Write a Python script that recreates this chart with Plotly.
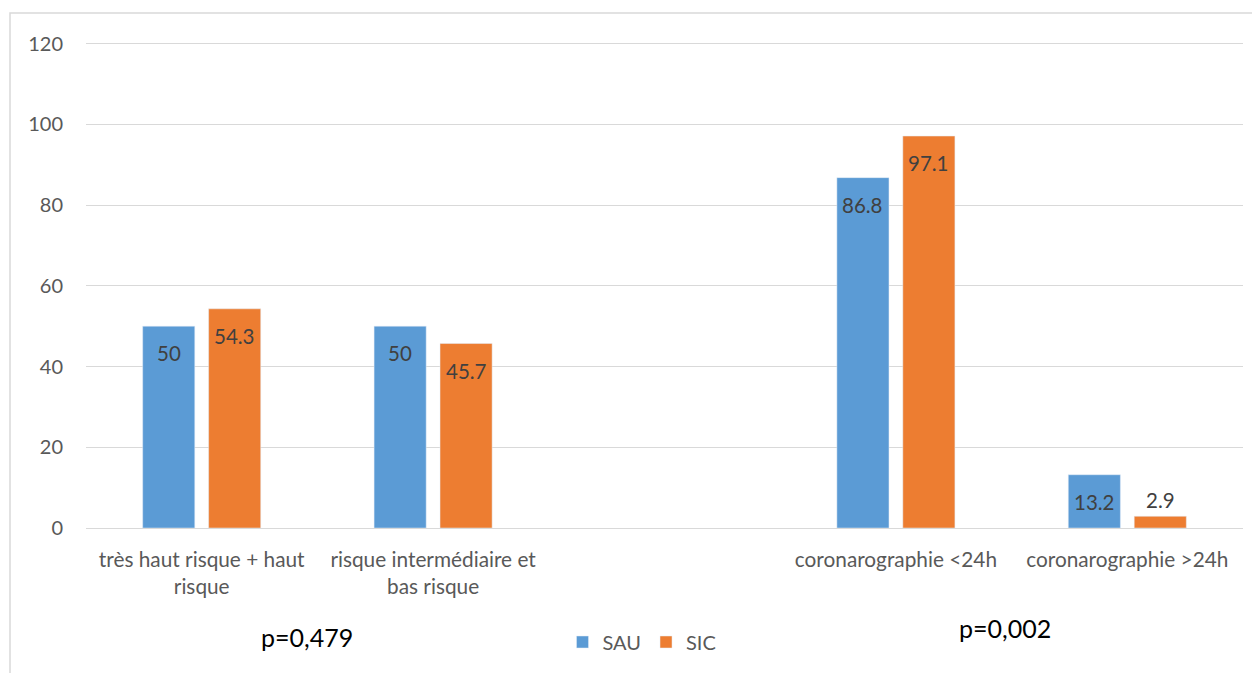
import plotly.graph_objects as go

categories = ["très haut risque + haut<br>risque", "risque intermédiaire et<br>bas risque", " ",
              "coronarographie <24h", "coronarographie >24h"]
sau = [50, 50, None, 86.8, 13.2]
sic = [54.3, 45.7, None, 97.1, 2.9]
y_ticks = [0, 20, 40, 60, 80, 100, 120]

O = 8  # browser body margin
W, H = 1260 - O, 673 - O
L, R, T, B = 86 - O, W - (1243 - O), 42 - O, H - (528 - O)
pw, ph = W - L - R, H - T - B


def px(x):
    return (x - O - L) / pw


def py(y):
    return (H - B - (y - O)) / ph


font = "Lato"
lab_color = "#404040"
fig = go.Figure()
fig.add_bar(name="SAU", x=categories, y=sau, marker_color="#5B9BD5", cliponaxis=False)
fig.add_bar(name="SIC", x=categories, y=sic, marker_color="#ED7D31", cliponaxis=False)

# data labels (inside end style)
for vals, shift in ((sau, -33), (sic, 33)):
    for c, v in zip(categories, vals):
        if v is None:
            continue
        big = v > 8
        fig.add_annotation(x=c, y=v, text=f"{v:g}", showarrow=False, xshift=shift,
                           xanchor="center", yanchor="middle", yshift=-27 if big else 16,
                           font=dict(size=20.5, color=lab_color, family=font))

fig.update_layout(
    width=W, height=H,
    margin=dict(l=L, r=R, t=T, b=B, autoexpand=False),
    paper_bgcolor="white", plot_bgcolor="white",
    barmode="group", bargap=0.43, bargroupgap=0.21,
    font=dict(family=font, color="#595959", size=20),
    legend=dict(orientation="h", x=px(642), xanchor="center", y=py(642), yanchor="middle",
                font=dict(size=20, color="#595959", family=font), itemwidth=30, traceorder="normal"),
    showlegend=True,
)
fig.update_yaxes(range=[0, 120.4], tickvals=y_ticks, showgrid=True, gridcolor="#D9D9D9", gridwidth=1.3,
                 zeroline=False, showline=False, ticks="", ticklabelstandoff=22,
                 tickfont=dict(size=20, color="#595959", family=font))
fig.update_xaxes(showgrid=False, showline=True, linecolor="#D9D9D9", linewidth=1.3, ticks="",
                 tickfont=dict(size=20.8, color="#595959", family=font), tickangle=0, ticklabelstandoff=13)

# chart frame
fig.add_shape(type="rect", xref="paper", yref="paper",
              x0=px(10), x1=px(1290), y0=py(700), y1=py(13),
              line=dict(color="#D9D9D9", width=1.5), fillcolor="rgba(0,0,0,0)", layer="below")

fig.add_annotation(text="p=0,479", xref="paper", yref="paper", x=px(307), y=py(637),
                   xanchor="center", yanchor="middle",
                   showarrow=False, font=dict(size=25, color="black", family=font))
fig.add_annotation(text="p=0,002", xref="paper", yref="paper", x=px(1005), y=py(628),
                   xanchor="center", yanchor="middle",
                   showarrow=False, font=dict(size=25, color="black", family=font))

fig.write_html("out.html")
